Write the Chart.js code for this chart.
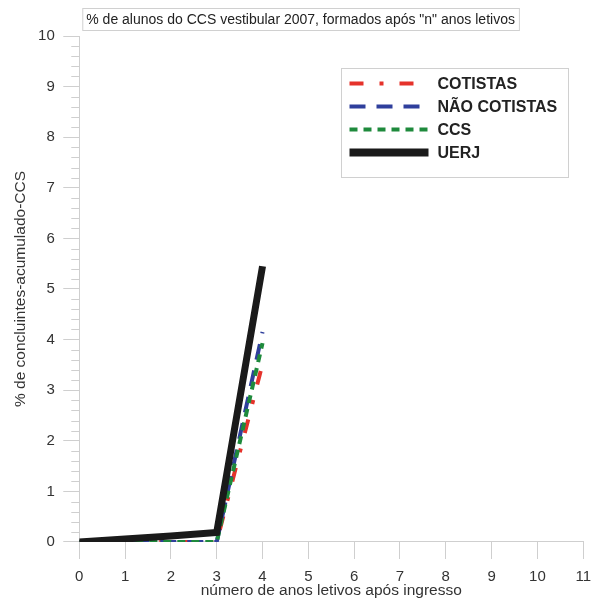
<!DOCTYPE html>
<html>
<head>
<meta charset="utf-8">
<script src="https://cdn.jsdelivr.net/npm/chart.js@4/dist/chart.umd.min.js"></script>
<style>
  html, body { margin: 0; padding: 0; background: #fff; }
  #wrap { width: 592px; height: 598px; }
</style>
</head>
<body>
<div id="wrap"><canvas id="myChart" width="592" height="598"></canvas></div>
<script>
// dados do grafico
const anos = [0, 1, 2, 3, 4];
const cotistas = [0, 0, 0, 0, 3.52];
const naoCotistas = [0, 0, 0, 0, 4.15];
const ccs = [0, 0, 0, 0, 3.93];
const uerj = [0, 0.06, 0.12, 0.19, 5.45];
const xTicks = [0, 1, 2, 3, 4, 5, 6, 7, 8, 9, 10, 11];
const yTicks = [0, 1, 2, 3, 4, 5, 6, 7, 8, 9, 10];

const tituloGrafico = '% de alunos do CCS vestibular 2007, formados após "n" anos letivos';

function pontos(arr) {
  return anos.map((a, i) => ({ x: a, y: arr[i] }));
}

const data = {
  datasets: [
    {
      label: "COTISTAS",
      data: pontos(cotistas),
      borderColor: "#e5322b",
      borderWidth: 4,
      borderDash: [14, 16, 4, 16],
      order: 3
    },
    {
      label: "NÃO COTISTAS",
      data: pontos(naoCotistas),
      borderColor: "#2f3f9c",
      borderWidth: 4,
      borderDash: [16, 11],
      order: 2
    },
    {
      label: "CCS",
      data: pontos(ccs),
      borderColor: "#1e8a3c",
      borderWidth: 4,
      borderDash: [8, 6],
      order: 1
    },
    {
      label: "UERJ",
      data: pontos(uerj),
      borderColor: "#1a1a1a",
      borderWidth: 7,
      order: 0
    }
  ]
};

// titulo com caixa
const tituloPlugin = {
  id: "tituloCaixa",
  afterDraw(chart) {
    const ctx = chart.ctx;
    ctx.save();
    ctx.font = "14px Arial, 'Liberation Sans', sans-serif";
    const w = ctx.measureText(tituloGrafico).width;
    const x = chart.chartArea.left + 3;
    ctx.fillStyle = "#fff";
    ctx.strokeStyle = "#d0d0d0";
    ctx.lineWidth = 1;
    ctx.fillRect(x, 8.5, w + 8, 22);
    ctx.strokeRect(x + 0.5, 8.5, w + 8, 22);
    ctx.fillStyle = "#222";
    ctx.textBaseline = "middle";
    ctx.fillText(tituloGrafico, x + 4, 20);
    ctx.restore();
  }
};

// minor ticks do eixo y (0.2)
const minorTicks = {
  id: "minorTicks",
  beforeDatasetsDraw(chart) {
    const ctx = chart.ctx;
    const y = chart.scales.y;
    const left = chart.chartArea.left;
    ctx.save();
    ctx.strokeStyle = "#cfcfcf";
    ctx.lineWidth = 1;
    for (let i = 0; i <= 50; i++) {
      if (i % 5 === 0) continue;
      const py = Math.round(y.getPixelForValue(i / 5)) + 0.5;
      ctx.beginPath();
      ctx.moveTo(left - 8, py);
      ctx.lineTo(left, py);
      ctx.stroke();
    }
    ctx.restore();
  }
};

// legenda desenhada dentro da area
const legendaPlugin = {
  id: "legendaCaixa",
  afterDatasetsDraw(chart) {
    const ctx = chart.ctx;
    const bx = 341.5, by = 68.5, bw = 227, bh = 109;
    ctx.save();
    ctx.fillStyle = "#fff";
    ctx.fillRect(bx, by, bw, bh);
    ctx.strokeStyle = "#d0d0d0";
    ctx.lineWidth = 1;
    ctx.strokeRect(bx, by, bw, bh);
    ctx.font = "bold 16px Arial, 'Liberation Sans', sans-serif";
    ctx.textBaseline = "middle";
    chart.data.datasets.forEach((ds, i) => {
      const yy = by + 15 + i * 23;
      ctx.beginPath();
      ctx.strokeStyle = ds.borderColor;
      ctx.lineWidth = ds.label === "UERJ" ? 8 : ds.borderWidth;
      ctx.setLineDash(ds.borderDash || []);
      ctx.moveTo(bx + 8, yy);
      ctx.lineTo(bx + 87, yy);
      ctx.stroke();
      ctx.setLineDash([]);
      ctx.fillStyle = "#222";
      ctx.fillText(ds.label, bx + 96, yy + 1);
    });
    ctx.restore();
  }
};

const fonte = "Arial, 'Liberation Sans', sans-serif";

const config = {
  type: "line",
  data: data,
  plugins: [minorTicks, legendaPlugin, tituloPlugin],
  options: {
    responsive: false,
    animation: false,
    layout: { padding: { top: 36, right: 6, left: 11, bottom: 0 } },
    elements: {
      point: { radius: 0 },
      line: { tension: 0, fill: false, borderCapStyle: "butt", borderJoinStyle: "miter" }
    },
    plugins: {
      legend: { display: false },
      tooltip: { enabled: false }
    },
    scales: {
      x: {
        type: "linear",
        min: 0,
        max: 11,
        afterBuildTicks(scale) {
          scale.ticks = xTicks.map((v) => ({ value: v }));
        },
        grid: {
          drawOnChartArea: false,
          color: "#cfcfcf",
          tickLength: 17
        },
        border: { display: true, color: "#cfcfcf" },
        ticks: {
          color: "#333",
          font: { family: fonte, size: 15, lineHeight: 2.267 },
          padding: 1,
          maxRotation: 0
        },
        title: {
          display: true,
          text: "número de anos letivos após ingresso",
          color: "#333",
          font: { family: fonte, size: 15.5 },
          padding: { top: -13.6, bottom: -2 }
        }
      },
      y: {
        min: 0,
        max: 10,
        afterBuildTicks(scale) {
          scale.ticks = yTicks.map((v) => ({ value: v }));
        },
        grid: {
          drawOnChartArea: false,
          color: "#cfcfcf",
          tickLength: 16
        },
        border: { display: true, color: "#cfcfcf" },
        ticks: {
          color: "#333",
          font: { family: fonte, size: 15 },
          padding: 8.5
        },
        title: {
          display: true,
          text: "% de concluintes-acumulado-CCS",
          color: "#333",
          font: { family: fonte, size: 15.5 },
          padding: { top: 0, bottom: 0 }
        }
      }
    }
  }
};

const ctx = document.getElementById("myChart");
const myChart = new Chart(ctx, config);
</script>
</body>
</html>
